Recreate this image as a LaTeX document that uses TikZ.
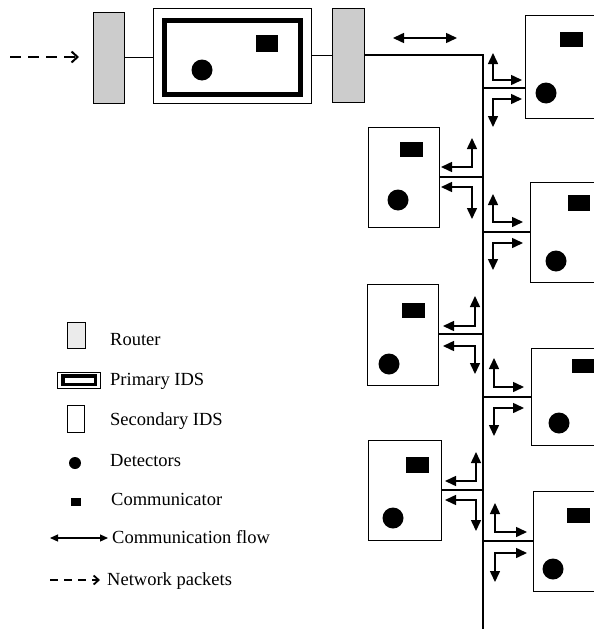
\documentclass[tikz,border=0pt]{standalone}
\usepackage{fontspec}
\setmainfont{Liberation Serif}
\usetikzlibrary{arrows.meta}
\begin{document}
\begin{tikzpicture}[x=1pt,y=-1pt,
  box/.style={draw,line width=1pt,fill=white,inner sep=0pt,outer sep=0pt,anchor=north west},
  commbox/.style={fill=black,inner sep=0pt,outer sep=0pt,anchor=north west},
  det/.style={circle,fill=black,inner sep=0pt,minimum size=21pt},
  router/.style={draw,line width=1pt,fill=black!20,inner sep=0pt,outer sep=0pt,anchor=north west},
  wire/.style={line width=1.1pt},
  flowtip/.tip={Triangle[length=11pt,width=10pt]},
  flow/.style={line width=1.5pt,flowtip-flowtip},
  smalltip/.tip={Triangle[length=8pt,width=7pt]},
  smallflow/.style={line width=1.2pt,smalltip-smalltip},
  packets/.style={line width=1.8pt,dash pattern=on 11pt off 7pt,-{Straight Barb[length=6pt,width=11pt,line width=2pt]}},
  lbl/.style={anchor=base west,inner sep=0pt,font=\fontsize{18.5}{20}\selectfont}
]
\useasboundingbox (0,0) rectangle (594,629);
\clip (0,0) rectangle (594,629);

% ---------- top chain ----------
\coordinate (pktA) at (10,57);
\coordinate (pktB) at (79,57);
\draw[packets] (pktA) -- (pktB);

\node[router,minimum width=31pt,minimum height=91pt] (rt1) at (93,12) {};
\node[box,minimum width=158pt,minimum height=95pt] (prim) at (153,8) {};
\node[draw,line width=5pt,inner sep=0pt,outer sep=0pt,anchor=north west,minimum width=136pt,minimum height=74pt] (primin) at (164.5,20.5) {};
\node[commbox,minimum width=22pt,minimum height=17pt] (primc) at (256,35) {};
\node[det] (primd) at (202,70) {};
\node[router,minimum width=32pt,minimum height=94pt] (rt2) at (332,8) {};

\draw[wire] (rt1.east) -- (rt1.east -| prim.west);
\draw[wire] (prim.east) -- (prim.east -| rt2.west);
\coordinate (bustop) at (483,55);
\coordinate (busbot) at (483,629);
\draw[wire] (rt2.east |- bustop) -- (bustop) -- (busbot);

\coordinate (fa) at (393,38);
\coordinate (fb) at (457,38);
\draw[flow] (fa) -- (fb);

% ---------- right column ----------
\foreach \n/\bx/\by/\bh/\cx/\cy/\cw/\ch/\dx/\dy/\ky in {
  R1/525/15/103/560/32/23/15/546/93/88,
  R2/530/182/100/568/195/22/16/556/261/232,
  R3/531/348/97/572/359/24/14/559/423/397,
  R4/533/491/100/567/508/23/15/553/569/541}{
  \node[box,minimum width=100pt,minimum height=\bh pt] (\n) at (\bx,\by) {};
  \node[commbox,minimum width=\cw pt,minimum height=\ch pt] (\n c) at (\cx,\cy) {};
  \node[det] (\n d) at (\dx,\dy) {};
  \coordinate (\n k) at (483,\ky);
  \draw[wire] (\n k) -- (\n k -| \n.west);
}

% ---------- left column ----------
\foreach \n/\bx/\by/\bw/\bh/\cx/\cy/\cw/\ch/\dx/\dy/\ky in {
  L1/368/127/71/100/400/142/23/15/398/200/177,
  L2/367/284/71/101/402/303/23/15/389/364/334,
  L3/368/440/73/100/406/457/23/16/393/518/490}{
  \node[box,minimum width=\bw pt,minimum height=\bh pt] (\n) at (\bx,\by) {};
  \node[commbox,minimum width=\cw pt,minimum height=\ch pt] (\n c) at (\cx,\cy) {};
  \node[det] (\n d) at (\dx,\dy) {};
  \coordinate (\n k) at (483,\ky);
  \draw[wire] (\n k) -- (\n k -| \n.east);
}

% ---------- flow arrows (elbows) ----------
\foreach \n/\xv/\yu/\ycu/\xt/\ycl/\yd in {
  R1/493/53/80/522/99/127,
  R2/493/194/222/523/243/270,
  R3/494/358/387/524/408/436,
  R4/495/503/532/527/553/582,
  L1/472/138/167/441/187/219,
  L2/475/296/326/443/346/374,
  L3/476/452/481/445/500/531}{
  \coordinate (\n u) at (\xv,\yu);
  \coordinate (\n a) at (\xt,\ycu);
  \coordinate (\n b) at (\xt,\ycl);
  \coordinate (\n v) at (\xv,\yd);
  \draw[flow] (\n u) |- (\n a);
  \draw[flow] (\n b) -| (\n v);
}

% ---------- legend ----------
\node[draw,line width=0.8pt,fill=black!8,inner sep=0pt,outer sep=0pt,anchor=north west,minimum width=18pt,minimum height=26pt] (lgR) at (67,322) {};
\node[lbl] (lgRt) at (110,345) {Router};

\node[draw,line width=0.8pt,fill=white,inner sep=0pt,outer sep=0pt,anchor=north west,minimum width=43pt,minimum height=16pt] (lgP) at (57,372) {};
\node[draw,line width=3.5pt,fill=white,inner sep=0pt,outer sep=0pt,anchor=north west,minimum width=32.5pt,minimum height=8.5pt] (lgPi) at (62.75,375.75) {};
\node[lbl] (lgPt) at (110,385) {Primary IDS};

\node[draw,line width=0.8pt,fill=white,inner sep=0pt,outer sep=0pt,anchor=north west,minimum width=17pt,minimum height=27pt] (lgS) at (67,405) {};
\node[lbl] (lgSt) at (110,425) {Secondary IDS};

\node[circle,fill=black,inner sep=0pt,minimum size=12pt] (lgD) at (75,463) {};
\node[lbl] (lgDt) at (110,466) {Detectors};

\node[commbox,minimum width=10pt,minimum height=8pt] (lgC) at (71,498) {};
\node[lbl] (lgCt) at (111,505) {Communicator};

\coordinate (lgFa) at (50,538);
\coordinate (lgFb) at (108,538);
\draw[smallflow] (lgFa) -- (lgFb);
\node[lbl] (lgFt) at (112,543) {Communication flow};

\coordinate (lgNa) at (50,580);
\coordinate (lgNb) at (100,580);
\draw[line width=1.6pt,dash pattern=on 8pt off 6pt,-{Straight Barb[length=5pt,width=9pt,line width=1.8pt]}] (lgNa) -- (lgNb);
\node[lbl] (lgNt) at (107,585) {Network packets};
\end{tikzpicture}
\end{document}
